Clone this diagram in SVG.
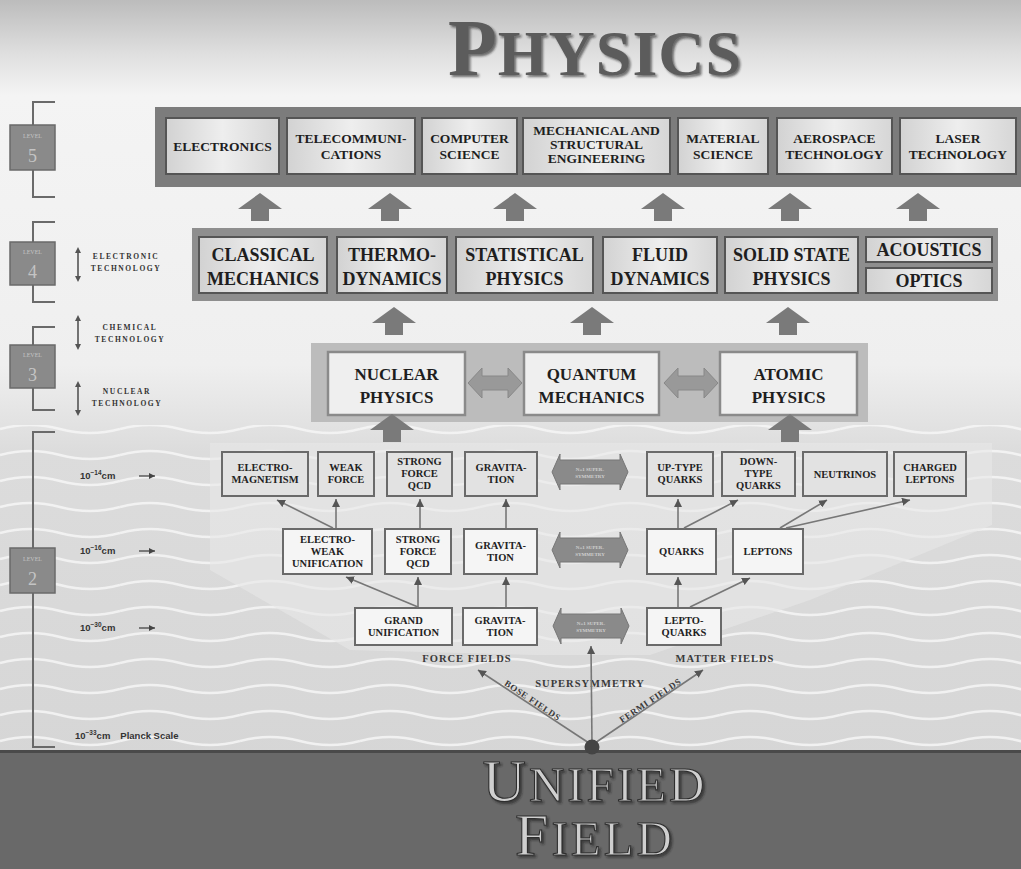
<svg xmlns="http://www.w3.org/2000/svg" xmlns:xlink="http://www.w3.org/1999/xlink" width="1021" height="869" viewBox="0 0 1021 869">
<defs>
  <linearGradient id="bg" x1="0" y1="0" x2="0" y2="1">
    <stop offset="0" stop-color="#bcbcbc"/>
    <stop offset="0.06" stop-color="#dedede"/>
    <stop offset="0.11" stop-color="#f4f4f4"/>
    <stop offset="0.42" stop-color="#efefef"/>
    <stop offset="0.52" stop-color="#dcdcdc"/>
    <stop offset="1" stop-color="#d4d4d4"/>
  </linearGradient>
  <linearGradient id="boxg" x1="0" y1="0" x2="1" y2="0">
    <stop offset="0" stop-color="#d2d2d2"/>
    <stop offset="0.5" stop-color="#eeeeee"/>
    <stop offset="1" stop-color="#d6d6d6"/>
  </linearGradient>
  <pattern id="waves" patternUnits="userSpaceOnUse" width="120" height="26">
    <path d="M0,13 Q30,5 60,13 T120,13" fill="none" stroke="#f6f6f6" stroke-width="2.5" opacity="0.85"/>
  </pattern>
  <filter id="shadow" x="-10%" y="-20%" width="120%" height="140%">
    <feDropShadow dx="2" dy="2" stdDeviation="1.2" flood-color="#222" flood-opacity="0.6"/>
  </filter>
  <marker id="ah" markerUnits="userSpaceOnUse" markerWidth="8" markerHeight="8" refX="8" refY="4" orient="auto">
    <path d="M0,0 L8,4 L0,8 Z" fill="#555"/>
  </marker>
  <marker id="sah" markerUnits="userSpaceOnUse" markerWidth="6" markerHeight="6" refX="6" refY="3" orient="auto">
    <path d="M0,0 L6,3 L0,6 Z" fill="#444"/>
  </marker>
  <path id="uparrow" d="M0,0 L22,16 L9,16 L9,28 L-9,28 L-9,16 L-22,16 Z" fill="#7a7a7a"/>
  <path id="dblarrow" d="M-27,0 L-13,-15 L-13,-7 L13,-7 L13,-15 L27,0 L13,15 L13,7 L-13,7 L-13,15 Z" fill="#999" stroke="#888" stroke-width="1"/>
  <path id="susyarrow" d="M-38,0 L-30,-18 L-30,-12 L30,-12 L30,-18 L38,0 L30,18 L30,12 L-30,12 L-30,18 Z" fill="#8a8a8a" stroke="#777" stroke-width="1"/>
  <path id="vdbl" d="M0,0 L3,6 L0.8,6 L0.8,29 L3,29 L0,35 L-3,29 L-0.8,29 L-0.8,6 L-3,6 Z" fill="#555"/>
</defs>
<style>
  .panel5 { fill: #7c7c7c; }
  .panel4 { fill: #8e8e8e; }
  .panel3 { fill: #bcbcbc; }
  .box5 { fill: url(#boxg); stroke: #555; stroke-width: 2; }
  .box4 { fill: url(#boxg); stroke: #555; stroke-width: 2; }
  .box3 { fill: #efefef; stroke: #8a8a8a; stroke-width: 2.5; }
  .box2a { fill: #e2e2e2; stroke: #6a6a6a; stroke-width: 2; }
  .box2b { fill: #f5f5f5; stroke: #6a6a6a; stroke-width: 2; }
  .lvl { fill: #8a8a8a; stroke: #6a6a6a; stroke-width: 1.5; }
  .brk { fill: none; stroke: #6a6a6a; stroke-width: 2; }
  .t5 { font-family: "Liberation Serif", serif; font-weight: bold; font-size: 13.5px; fill: #1e1e1e; text-anchor: middle; }
  .t4 { font-family: "Liberation Serif", serif; font-weight: bold; font-size: 18px; fill: #1e1e1e; text-anchor: middle; }
  .t3 { font-family: "Liberation Serif", serif; font-weight: bold; font-size: 17px; fill: #1e1e1e; text-anchor: middle; }
  .t2 { font-family: "Liberation Serif", serif; font-weight: bold; font-size: 10.5px; fill: #222; text-anchor: middle; }
  .ts { font-family: "Liberation Serif", serif; font-weight: bold; font-size: 5px; fill: #d0d0d0; text-anchor: middle; }
  .tside { font-family: "Liberation Serif", serif; font-weight: bold; font-size: 7.5px; letter-spacing: 1.6px; fill: #333; text-anchor: middle; }
  .tlvl { font-family: "Liberation Serif", serif; font-size: 6px; fill: #c4c4c4; text-anchor: middle; }
  .tnum { font-family: "Liberation Serif", serif; font-size: 18px; fill: #c4c4c4; text-anchor: middle; }
  .tscale { font-family: "Liberation Sans", sans-serif; font-weight: bold; font-size: 9.5px; fill: #333; }
  .sarrow { stroke: #444; stroke-width: 1.3; marker-end: url(#sah); }
  .tfield { font-family: "Liberation Serif", serif; font-weight: bold; font-size: 10.5px; letter-spacing: 1px; fill: #3a3a3a; text-anchor: middle; }
  .tdiag { font-family: "Liberation Serif", serif; font-weight: bold; font-size: 9px; letter-spacing: 0.6px; fill: #3a3a3a; text-anchor: middle; }
  .conn { stroke: #777; stroke-width: 1.6; fill: none; marker-end: url(#ah); }
</style>

<!-- background -->
<rect x="0" y="0" width="1021" height="869" fill="url(#bg)"/>
<rect x="0" y="425" width="1021" height="327" fill="url(#waves)"/>
<polygon points="210,443 992,443 992,525 810,600 650,655 535,655 350,650 210,570" fill="#e8e8e8" opacity="0.6"/>

<!-- title -->
<g id="title" filter="url(#shadow)">
  <text x="595" y="75" text-anchor="middle" font-family="Liberation Serif, serif" font-weight="bold" fill="#5c5c5c" letter-spacing="1"><tspan font-size="80">P</tspan><tspan font-size="64">HYSICS</tspan></text>
</g>

<!-- level column -->
<g id="level5">
  <path class="brk" d="M55,102 H33 V197 H55"/>
  <rect class="lvl" x="10" y="125" width="45" height="45"/>
  <text class="tlvl" x="32.5" y="138">LEVEL</text>
  <text class="tnum" x="32.5" y="162">5</text>
</g>
<g id="level4">
  <path class="brk" d="M55,222 H33 V302 H55"/>
  <rect class="lvl" x="10" y="242" width="45" height="43"/>
  <text class="tlvl" x="32.5" y="254">LEVEL</text>
  <text class="tnum" x="32.5" y="278">4</text>
</g>
<g id="level3">
  <path class="brk" d="M55,327 H33 V410 H55"/>
  <rect class="lvl" x="10" y="345" width="45" height="43"/>
  <text class="tlvl" x="32.5" y="357">LEVEL</text>
  <text class="tnum" x="32.5" y="381">3</text>
</g>
<g id="level2">
  <path class="brk" d="M55,432 H33 V747 H55"/>
  <rect class="lvl" x="10" y="548" width="45" height="45"/>
  <text class="tlvl" x="32.5" y="561">LEVEL</text>
  <text class="tnum" x="32.5" y="585">2</text>
</g>

<g id="side-labels">
  <use href="#vdbl" x="78" y="247"/>
  <text class="tside" x="126" y="259">ELECTRONIC</text>
  <text class="tside" x="126" y="271">TECHNOLOGY</text>
  <use href="#vdbl" x="78" y="315"/>
  <text class="tside" x="130" y="330">CHEMICAL</text>
  <text class="tside" x="130" y="342">TECHNOLOGY</text>
  <use href="#vdbl" x="78" y="381"/>
  <text class="tside" x="127" y="394">NUCLEAR</text>
  <text class="tside" x="127" y="406">TECHNOLOGY</text>
</g>

<g id="scale-labels">
  <text class="tscale" x="80" y="479">10<tspan font-size="6.5" dy="-4">−14</tspan><tspan dy="4">cm</tspan></text>
  <line class="sarrow" x1="139" y1="476" x2="155" y2="476"/>
  <text class="tscale" x="80" y="554">10<tspan font-size="6.5" dy="-4">−16</tspan><tspan dy="4">cm</tspan></text>
  <line class="sarrow" x1="139" y1="551" x2="155" y2="551"/>
  <text class="tscale" x="80" y="631">10<tspan font-size="6.5" dy="-4">−30</tspan><tspan dy="4">cm</tspan></text>
  <line class="sarrow" x1="139" y1="628" x2="155" y2="628"/>
  <text class="tscale" x="75" y="739">10<tspan font-size="6.5" dy="-4">−33</tspan><tspan dy="4">cm</tspan><tspan dx="10">Planck Scale</tspan></text>
</g>

<!-- LEVEL 5 -->
<rect class="panel5" x="155" y="107" width="866" height="80"/>
<g id="electronics"><rect class="box5" x="166" y="118" width="113" height="56"/><text class="t5" x="222.5" y="151">ELECTRONICS</text></g>
<g id="telecom"><rect class="box5" x="287" y="118" width="128" height="56"/><text class="t5" x="351" y="143">TELECOMMUNI-</text><text class="t5" x="351" y="159">CATIONS</text></g>
<g id="computer"><rect class="box5" x="422" y="118" width="95" height="56"/><text class="t5" x="469.5" y="143">COMPUTER</text><text class="t5" x="469.5" y="159">SCIENCE</text></g>
<g id="mechanical"><rect class="box5" x="523" y="118" width="147" height="56"/><text class="t5" x="596.5" y="135">MECHANICAL AND</text><text class="t5" x="596.5" y="149">STRUCTURAL</text><text class="t5" x="596.5" y="163">ENGINEERING</text></g>
<g id="material"><rect class="box5" x="678" y="118" width="90" height="56"/><text class="t5" x="723" y="143">MATERIAL</text><text class="t5" x="723" y="159">SCIENCE</text></g>
<g id="aerospace"><rect class="box5" x="777" y="118" width="115" height="56"/><text class="t5" x="834.5" y="143">AEROSPACE</text><text class="t5" x="834.5" y="159">TECHNOLOGY</text></g>
<g id="laser"><rect class="box5" x="900" y="118" width="116" height="56"/><text class="t5" x="958" y="143">LASER</text><text class="t5" x="958" y="159">TECHNOLOGY</text></g>

<!-- LEVEL 4 -->
<rect class="panel4" x="192" y="228" width="806" height="73"/>
<g id="classical"><rect class="box4" x="199" y="237" width="128" height="56"/><text class="t4" x="263" y="261">CLASSICAL</text><text class="t4" x="263" y="285">MECHANICS</text></g>
<g id="thermo"><rect class="box4" x="337" y="237" width="110" height="56"/><text class="t4" x="392" y="261">THERMO-</text><text class="t4" x="392" y="285">DYNAMICS</text></g>
<g id="statistical"><rect class="box4" x="456" y="237" width="137" height="56"/><text class="t4" x="524.5" y="261">STATISTICAL</text><text class="t4" x="524.5" y="285">PHYSICS</text></g>
<g id="fluid"><rect class="box4" x="603" y="237" width="114" height="56"/><text class="t4" x="660" y="261">FLUID</text><text class="t4" x="660" y="285">DYNAMICS</text></g>
<g id="solid"><rect class="box4" x="725" y="237" width="133" height="56"/><text class="t4" x="791.5" y="261">SOLID STATE</text><text class="t4" x="791.5" y="285">PHYSICS</text></g>
<g id="acoustics"><rect class="box4" x="866" y="237" width="126" height="25"/><text class="t4" x="929" y="256" font-size="17">ACOUSTICS</text></g>
<g id="optics"><rect class="box4" x="866" y="268" width="126" height="25"/><text class="t4" x="929" y="287" font-size="17">OPTICS</text></g>

<!-- LEVEL 3 -->
<rect class="panel3" x="311" y="343" width="557" height="79"/>
<g id="nuclear"><rect class="box3" x="328" y="352" width="137" height="63"/><text class="t3" x="396.5" y="380">NUCLEAR</text><text class="t3" x="396.5" y="403">PHYSICS</text></g>
<g id="quantum"><rect class="box3" x="524" y="352" width="135" height="63"/><text class="t3" x="591.5" y="380">QUANTUM</text><text class="t3" x="591.5" y="403">MECHANICS</text></g>
<g id="atomic"><rect class="box3" x="720" y="352" width="137" height="63"/><text class="t3" x="788.5" y="380">ATOMIC</text><text class="t3" x="788.5" y="403">PHYSICS</text></g>

<!-- LEVEL 2 top row -->
<g id="electromagnetism"><rect class="box2a" x="222" y="452" width="86" height="44"/><text class="t2" x="265" y="471">ELECTRO-</text><text class="t2" x="265" y="483">MAGNETISM</text></g>
<g id="weak"><rect class="box2a" x="318" y="452" width="56" height="44"/><text class="t2" x="346" y="471">WEAK</text><text class="t2" x="346" y="483">FORCE</text></g>
<g id="strong1"><rect class="box2a" x="387" y="452" width="65" height="44"/><text class="t2" x="419.5" y="465">STRONG</text><text class="t2" x="419.5" y="477">FORCE</text><text class="t2" x="419.5" y="489">QCD</text></g>
<g id="gravitation1"><rect class="box2a" x="465" y="452" width="72" height="44"/><text class="t2" x="501" y="471">GRAVITA-</text><text class="t2" x="501" y="483">TION</text></g>
<g id="uptype"><rect class="box2a" x="647" y="452" width="66" height="44"/><text class="t2" x="680" y="471">UP-TYPE</text><text class="t2" x="680" y="483">QUARKS</text></g>
<g id="downtype"><rect class="box2a" x="722" y="452" width="73" height="44"/><text class="t2" x="758.5" y="465">DOWN-</text><text class="t2" x="758.5" y="477">TYPE</text><text class="t2" x="758.5" y="489">QUARKS</text></g>
<g id="neutrinos"><rect class="box2a" x="803" y="452" width="84" height="44"/><text class="t2" x="845" y="478">NEUTRINOS</text></g>
<g id="charged"><rect class="box2a" x="894" y="452" width="72" height="44"/><text class="t2" x="930" y="471">CHARGED</text><text class="t2" x="930" y="483">LEPTONS</text></g>

<!-- LEVEL 2 middle row -->
<g id="electroweak"><rect class="box2b" x="283" y="529" width="89" height="45"/><text class="t2" x="327.5" y="543">ELECTRO-</text><text class="t2" x="327.5" y="555">WEAK</text><text class="t2" x="327.5" y="567">UNIFICATION</text></g>
<g id="strong2"><rect class="box2b" x="385" y="529" width="66" height="45"/><text class="t2" x="418" y="543">STRONG</text><text class="t2" x="418" y="555">FORCE</text><text class="t2" x="418" y="567">QCD</text></g>
<g id="gravitation2"><rect class="box2b" x="464" y="529" width="73" height="45"/><text class="t2" x="500.5" y="549">GRAVITA-</text><text class="t2" x="500.5" y="561">TION</text></g>
<g id="quarks"><rect class="box2b" x="647" y="529" width="69" height="45"/><text class="t2" x="681.5" y="555">QUARKS</text></g>
<g id="leptons"><rect class="box2b" x="733" y="529" width="70" height="45"/><text class="t2" x="768" y="555">LEPTONS</text></g>

<!-- LEVEL 2 bottom row -->
<g id="grand"><rect class="box2b" x="355" y="608" width="97" height="37"/><text class="t2" x="403.5" y="624">GRAND</text><text class="t2" x="403.5" y="636">UNIFICATION</text></g>
<g id="gravitation3"><rect class="box2b" x="463" y="608" width="74" height="37"/><text class="t2" x="500" y="624">GRAVITA-</text><text class="t2" x="500" y="636">TION</text></g>
<g id="leptoquarks"><rect class="box2b" x="647" y="608" width="74" height="37"/><text class="t2" x="684" y="624">LEPTO-</text><text class="t2" x="684" y="636">QUARKS</text></g>

<!-- supersymmetry double arrows -->
<g id="susy1"><use href="#susyarrow" x="590" y="472"/><text class="ts" x="590" y="471">N=1 SUPER-</text><text class="ts" x="590" y="478">SYMMETRY</text></g>
<g id="susy2"><use href="#susyarrow" x="590" y="550"/><text class="ts" x="590" y="549">N=1 SUPER-</text><text class="ts" x="590" y="556">SYMMETRY</text></g>
<g id="susy3"><use href="#susyarrow" x="591" y="626"/><text class="ts" x="591" y="625">N=1 SUPER-</text><text class="ts" x="591" y="632">SYMMETRY</text></g>

<!-- field labels -->
<text class="tfield" x="467" y="662">FORCE FIELDS</text>
<text class="tfield" x="725" y="662" letter-spacing="1.3">MATTER FIELDS</text>
<text class="tfield" x="590" y="687" letter-spacing="0.7">SUPERSYMMETRY</text>
<text class="tdiag" transform="translate(531,703) rotate(33.8)">BOSE FIELDS</text>
<text class="tdiag" transform="translate(652,703) rotate(-33.8)">FERMI FIELDS</text>

<!-- connectors -->
<g id="connectors">
  <use href="#uparrow" x="260" y="193"/>
  <use href="#uparrow" x="390" y="193"/>
  <use href="#uparrow" x="515" y="193"/>
  <use href="#uparrow" x="663" y="193"/>
  <use href="#uparrow" x="790" y="193"/>
  <use href="#uparrow" x="918" y="193"/>
  <use href="#uparrow" x="394" y="307"/>
  <use href="#uparrow" x="592" y="307"/>
  <use href="#uparrow" x="788" y="307"/>
  <use href="#uparrow" x="392" y="414"/>
  <use href="#uparrow" x="790" y="414"/>
  <use href="#dblarrow" x="495" y="383"/>
  <use href="#dblarrow" x="691" y="383"/>
  <line class="conn" x1="333" y1="528" x2="277" y2="500"/>
  <line class="conn" x1="336" y1="528" x2="336" y2="499"/>
  <line class="conn" x1="420" y1="528" x2="420" y2="499"/>
  <line class="conn" x1="506" y1="528" x2="506" y2="499"/>
  <line class="conn" x1="418" y1="607" x2="346" y2="577"/>
  <line class="conn" x1="418" y1="607" x2="418" y2="577"/>
  <line class="conn" x1="506" y1="607" x2="506" y2="577"/>
  <line class="conn" x1="678" y1="607" x2="678" y2="577"/>
  <line class="conn" x1="690" y1="607" x2="750" y2="578"/>
  <line class="conn" x1="678" y1="528" x2="678" y2="499"/>
  <line class="conn" x1="684" y1="528" x2="738" y2="500"/>
  <line class="conn" x1="780" y1="528" x2="827" y2="500"/>
  <line class="conn" x1="786" y1="528" x2="910" y2="500"/>
  <line class="conn" x1="592" y1="745" x2="478" y2="670"/>
  <line class="conn" x1="592" y1="745" x2="703" y2="670"/>
  <line class="conn" x1="592" y1="745" x2="591" y2="646"/>
</g>

<!-- unified field -->
<g id="unified-field">
  <rect x="0" y="752" width="1021" height="117" fill="#696969"/>
  <rect x="0" y="750" width="1021" height="3" fill="#4a4a4a"/>
  <circle cx="592" cy="747" r="7.5" fill="#444"/>
  <g filter="url(#shadow)" font-family="Liberation Serif, serif" fill="#cfcfcf" stroke="#2e2e2e" stroke-width="1.1" text-anchor="middle">
    <text x="595" y="801" letter-spacing="3"><tspan font-size="60">U</tspan><tspan font-size="49">NIFIED</tspan></text>
    <text x="595" y="855" letter-spacing="3"><tspan font-size="60">F</tspan><tspan font-size="49">IELD</tspan></text>
  </g>
</g>
</svg>
